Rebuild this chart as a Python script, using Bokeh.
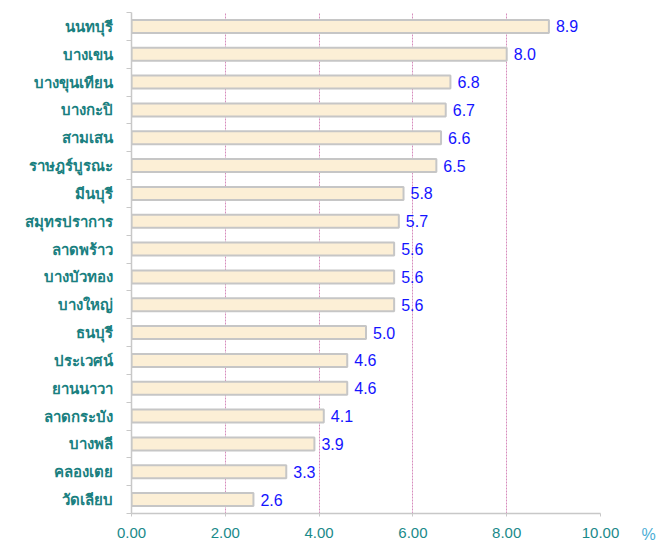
from bokeh.plotting import figure
from bokeh.models import ColumnDataSource, FixedTicker, LinearAxis, NumeralTickFormatter, Range1d
from bokeh.embed import file_html
from bokeh.resources import INLINE

districts = ["นนทบุรี", "บางเขน", "บางขุนเทียน", "บางกะปิ", "สามเสน", "ราษฎร์บูรณะ",
             "มีนบุรี", "สมุทรปราการ", "ลาดพร้าว", "บางบัวทอง", "บางใหญ่", "ธนบุรี",
             "ประเวศน์", "ยานนาวา", "ลาดกระบัง", "บางพลี", "คลองเตย", "วัดเลียบ"]
values = [8.9, 8.0, 6.8, 6.7, 6.6, 6.5, 5.8, 5.7, 5.6, 5.6, 5.6, 5.0, 4.6, 4.6, 4.1, 3.9, 3.3, 2.6]
x_ticks = [0, 2, 4, 6, 8, 10]
unit_label = "%"

n = len(districts)
ypos = [n - 0.5 - i for i in range(n)]
src = ColumnDataSource(dict(y=ypos, v=values, name=districts,
                            lbl=["%.1f" % v for v in values]))

p = figure(width=668, height=544, output_backend="svg", toolbar_location=None,
           x_range=Range1d(0, 10), y_range=Range1d(0, n),
           min_border_left=131, min_border_right=68, min_border_top=12, min_border_bottom=31)
p.outline_line_color = None
p.background_fill_color = "white"

p.hbar(y="y", right="v", left=0, height=0.47, source=src,
       fill_color="#fcefd6", line_color="#c6c6c6", line_width=2)
p.text(x="v", y="y", text="lbl", source=src, x_offset=7, text_baseline="middle",
       text_color="#1414ff", text_font_size="16px")

# x axis
p.xaxis.ticker = FixedTicker(ticks=x_ticks)
p.xaxis.formatter = NumeralTickFormatter(format="0.00")
p.xaxis.axis_line_color = "#c8c8c8"
p.xaxis.axis_line_width = 1.5
p.xaxis.major_tick_line_color = "#c8c8c8"
p.xaxis.major_tick_in = 0
p.xaxis.major_tick_out = 3
p.xaxis.minor_tick_line_color = None
p.xaxis.major_label_text_color = "#1a8a8a"
p.xaxis.major_label_text_font_size = "15px"
p.xaxis.major_label_standoff = 11

# y axis
p.yaxis.ticker = FixedTicker(ticks=ypos, minor_ticks=list(range(0, n + 1)))
p.yaxis.major_label_overrides = {y: d for y, d in zip(ypos, districts)}
p.yaxis.axis_line_color = "#c8c8c8"
p.yaxis.axis_line_width = 1.5
p.yaxis.major_tick_line_color = None
p.yaxis.minor_tick_line_color = "#c8c8c8"
p.yaxis.minor_tick_in = 0
p.yaxis.minor_tick_out = 5
p.yaxis.major_label_text_color = "#1a8080"
p.yaxis.major_label_text_font_style = "bold"
p.yaxis.major_label_text_font_size = "15px"
p.yaxis.major_label_standoff = 13

p.xgrid.ticker = FixedTicker(ticks=x_ticks[1:])
p.xgrid.grid_line_color = "#d68cbc"
p.xgrid.grid_line_width = 1
p.xgrid.grid_line_dash = "2 1"
p.ygrid.grid_line_color = None

# unit label "%" at the bottom right, via a bare right axis
unit_axis = LinearAxis(ticker=FixedTicker(ticks=[0], minor_ticks=[]),
                       major_label_overrides={0: " \n \n \n" + unit_label})
unit_axis.axis_line_color = None
unit_axis.major_tick_line_color = None
unit_axis.minor_tick_line_color = None
unit_axis.major_tick_out = 0
unit_axis.major_tick_in = 0
unit_axis.major_label_standoff = 41
unit_axis.major_label_text_color = "#4aaed6"
unit_axis.major_label_text_font_size = "16px"
unit_axis.major_label_text_line_height = 0.95
p.add_layout(unit_axis, "right")

open("out.html", "w").write(file_html(p, INLINE))
